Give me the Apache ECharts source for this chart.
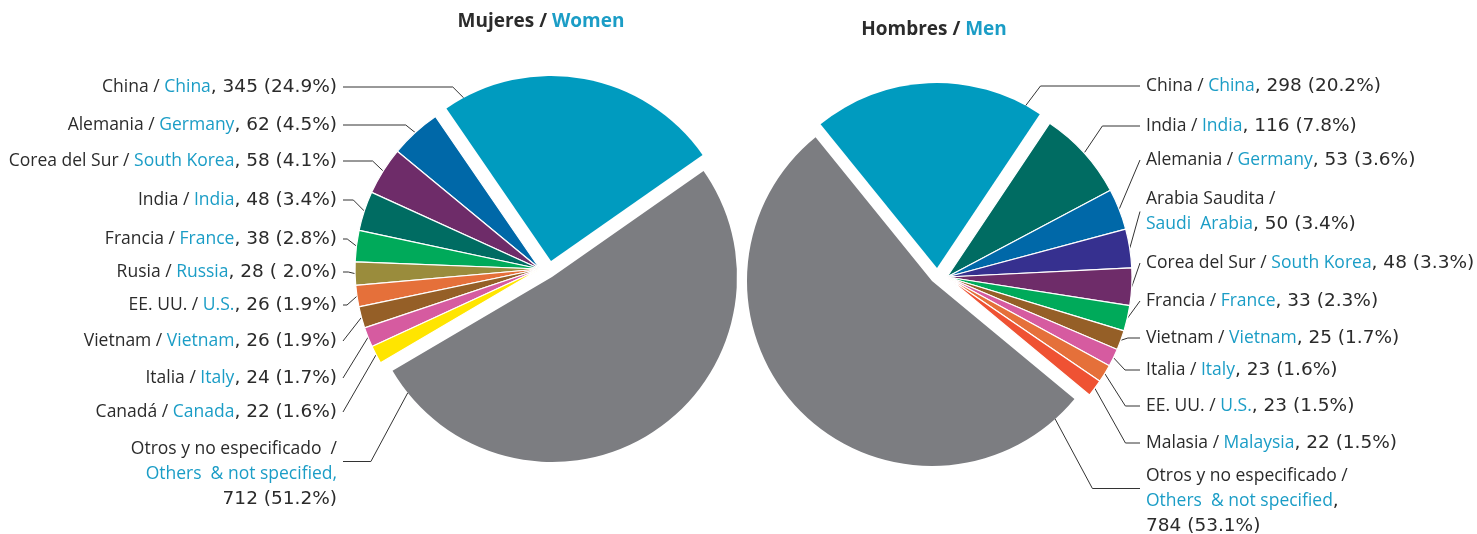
<!DOCTYPE html>
<html lang="es">
<head>
    <meta charset="UTF-8">
    <title>Mujeres / Hombres</title>
    <script src="https://cdn.jsdelivr.net/npm/echarts@6/dist/echarts.min.js"></script>
</head>
<body style="margin:0;width:1477px;height:534px;background:#fff">
    <div id="container" style="width:1477px;height:534px"></div>
</body>
<script>
    // Mujeres / Women
    var womenEs = ['China', 'Alemania', 'Corea del Sur', 'India', 'Francia', 'Rusia', 'EE. UU.', 'Vietnam', 'Italia', 'Canadá', 'Otros y no especificado'];
    var womenEn = ['China', 'Germany', 'South Korea', 'India', 'France', 'Russia', 'U.S.', 'Vietnam', 'Italy', 'Canada', 'Others  & not specified'];
    var womenVal = [345, 62, 58, 48, 38, 28, 26, 26, 24, 22, 712];
    var womenPct = ['24.9', '4.5', '4.1', '3.4', '2.8', ' 2.0', '1.9', '1.9', '1.7', '1.6', '51.2'];

    // Hombres / Men
    var menEs = ['China', 'India', 'Alemania', 'Arabia Saudita', 'Corea del Sur', 'Francia', 'Vietnam', 'Italia', 'EE. UU.', 'Malasia', 'Otros y no especificado'];
    var menEn = ['China', 'India', 'Germany', 'Saudi  Arabia', 'South Korea', 'France', 'Vietnam', 'Italy', 'U.S.', 'Malaysia', 'Others  & not specified'];
    var menVal = [298, 116, 53, 50, 48, 33, 25, 23, 23, 22, 784];
    var menPct = ['20.2', '7.8', '3.6', '3.4', '3.3', '2.3', '1.7', '1.6', '1.5', '1.5', '53.1'];

    // colours
    var womenColors = ['#009bbf', '#0068a8', '#6e2c69', '#006c62', '#00aa5a', '#9a8c3c', '#e5703a', '#955f27', '#d65ba0', '#ffe500', '#7c7d81'];
    var menColors = ['#009bbf', '#006c62', '#0068a8', '#36308f', '#6e2c69', '#00aa5a', '#955f27', '#d65ba0', '#e5703a', '#ef5233', '#7c7d81'];

    // layout: y of first text line of each label
    var womenLabelY = [87, 125, 161, 200, 239, 272, 305, 341, 378, 412, 449];
    var menLabelY = [86, 126, 160, 199, 263, 301, 338, 370, 406, 443, 476];

    var FONT = '"Open Sans", sans-serif';
    var NUMFONT = '"DejaVu Sans", sans-serif';
    var TEXT = '#2b2b2b', BLUE = '#1b9dc6';
    var R = 185, LH = 25, FS = 17.5;

    function sliceAngles(vals, start, clockwise) {
        var total = vals.reduce(function (a, b) { return a + b; }, 0);
        var acc = 0, sign = clockwise ? -1 : 1, out = [];
        vals.forEach(function (v) {
            var a0 = start + sign * acc / total * 360;
            acc += v;
            out.push([a0, start + sign * acc / total * 360]);
        });
        return out;
    }

    function labelText(es, en, val, pct, i, side) {
        var last = es.length - 1;
        var num = val[i] + ' (' + pct[i] + '%)';
        if (i === last) {
            if (side === 'left') return es[i] + '  /\n{en|' + en[i] + ',}\n{num|' + num + '}';
            return es[i] + ' /\n{en|' + en[i] + '}{num|,}\n{num|' + num + '}';
        }
        if (es[i].length + en[i].length > 26) {
            return es[i] + ' /\n{en|' + en[i] + '}{num|, ' + num + '}';
        }
        return es[i] + ' / {en|' + en[i] + '}{num|, ' + num + '}';
    }

    function explodedSeries(cfg, k) {
        return {
            type: 'pie',
            silent: true,
            center: [cfg.center[0] + cfg.explode[k][0], cfg.center[1] + cfg.explode[k][1]],
            radius: [0, R],
            startAngle: cfg.startAngle,
            clockwise: cfg.clockwise,
            label: { show: false },
            labelLine: { show: false },
            emphasis: { disabled: true },
            data: cfg.val.map(function (v, i) {
                return {
                    value: v,
                    itemStyle: i === k
                        ? { color: cfg.colors[i], borderWidth: 0 }
                        : { color: 'rgba(0,0,0,0)', borderWidth: 0 }
                };
            })
        };
    }

    function mainSeries(cfg) {
        var n = cfg.val.length;
        var angles = sliceAngles(cfg.val, cfg.startAngle, cfg.clockwise);
        var data = cfg.val.map(function (v, i) {
            var big = cfg.explode[i] !== undefined;
            return {
                value: v,
                name: cfg.es[i],
                itemStyle: big
                    ? { color: 'rgba(0,0,0,0)', borderWidth: 0 }
                    : { color: cfg.colors[i] }
            };
        });
        return {
            type: 'pie',
            center: cfg.center,
            radius: [0, R],
            startAngle: cfg.startAngle,
            clockwise: cfg.clockwise,
            avoidLabelOverlap: false,
            emphasis: { disabled: true },
            itemStyle: { borderColor: '#fff', borderWidth: 1.2 },
            label: {
                show: true,
                position: 'outside',
                color: TEXT,
                fontFamily: FONT,
                fontSize: FS,
                lineHeight: LH,
                formatter: function (p) {
                    return labelText(cfg.es, cfg.en, cfg.val, cfg.pct, p.dataIndex, cfg.side);
                },
                rich: {
                    en: { color: BLUE, fontFamily: FONT, fontSize: FS, lineHeight: LH },
                    num: { color: TEXT, fontFamily: NUMFONT, fontSize: 18.5, lineHeight: LH }
                }
            },
            labelLine: { show: true, lineStyle: { color: '#333', width: 1 } },
            labelLayout: function (p) {
                var i = p.dataIndex;
                var a = angles[i];
                var frac = i === 0 ? 0.93 : (i === n - 1 ? 0.045 : 0.5);
                var ang = (a[0] + (a[1] - a[0]) * frac) * Math.PI / 180;
                var off = cfg.explode[i] || [0, 0];
                var ax = cfg.center[0] + R * Math.cos(ang) + off[0];
                var ay = cfg.center[1] - R * Math.sin(ang) + off[1];
                var firstY = cfg.labelY[i];
                var lines = labelText(cfg.es, cfg.en, cfg.val, cfg.pct, i, cfg.side).split('\n').length;
                var ly = lines > 1 ? firstY + LH / 2 : firstY;
                var dy = Math.abs(ly - ay);
                var pts;
                if (cfg.side === 'left') {
                    var endX = cfg.textX + 6;
                    var ex = ax - (6 + 0.45 * dy);
                    pts = ex < endX + 4 ? [[ax, ay], [endX, ly]] : [[ax, ay], [ex, ly], [endX, ly]];
                } else {
                    var endX2 = cfg.textX - 6;
                    var ex2 = ax + (6 + 0.45 * dy);
                    pts = ex2 > endX2 - 4 ? [[ax, ay], [endX2, ly]] : [[ax, ay], [ex2, ly], [endX2, ly]];
                }
                return {
                    x: cfg.textX,
                    y: firstY - LH / 2,
                    align: cfg.side === 'left' ? 'right' : 'left',
                    verticalAlign: 'top',
                    labelLinePoints: pts
                };
            },
            data: data
        };
    }

    var women = {
        es: womenEs, en: womenEn, val: womenVal, pct: womenPct, colors: womenColors,
        labelY: womenLabelY, center: [540, 269], startAngle: 35, clockwise: false,
        side: 'left', textX: 337,
        explode: { 0: [11, -8], 10: [12, 8] }
    };
    var men = {
        es: menEs, en: menEn, val: menVal, pct: menPct, colors: menColors,
        labelY: menLabelY, center: [947, 277], startAngle: 129, clockwise: true,
        side: 'right', textX: 1146,
        explode: { 0: [-10, -9], 10: [-15, 4] }
    };

    var dom = document.getElementById('container');
    var myChart = echarts.init(dom);

    function titleText(x, y, text) {
        return {
            type: 'text', x: x, y: y,
            style: {
                text: text, align: 'center', verticalAlign: 'middle',
                fontFamily: FONT, fontSize: 19, fontWeight: 'bold', fill: TEXT,
                rich: { en: { fill: BLUE, fontFamily: FONT, fontSize: 19, fontWeight: 'bold' } }
            }
        };
    }

    var option = {
        animation: false,
        backgroundColor: '#fff',
        graphic: [
            titleText(541, 22, 'Mujeres / {en|Women}'),
            titleText(934, 30, 'Hombres / {en|Men}')
        ],
        series: [
            mainSeries(women),
            explodedSeries(women, 0),
            explodedSeries(women, 10),
            mainSeries(men),
            explodedSeries(men, 0),
            explodedSeries(men, 10)
        ]
    };
    myChart.setOption(option, true);
</script>
</html>
